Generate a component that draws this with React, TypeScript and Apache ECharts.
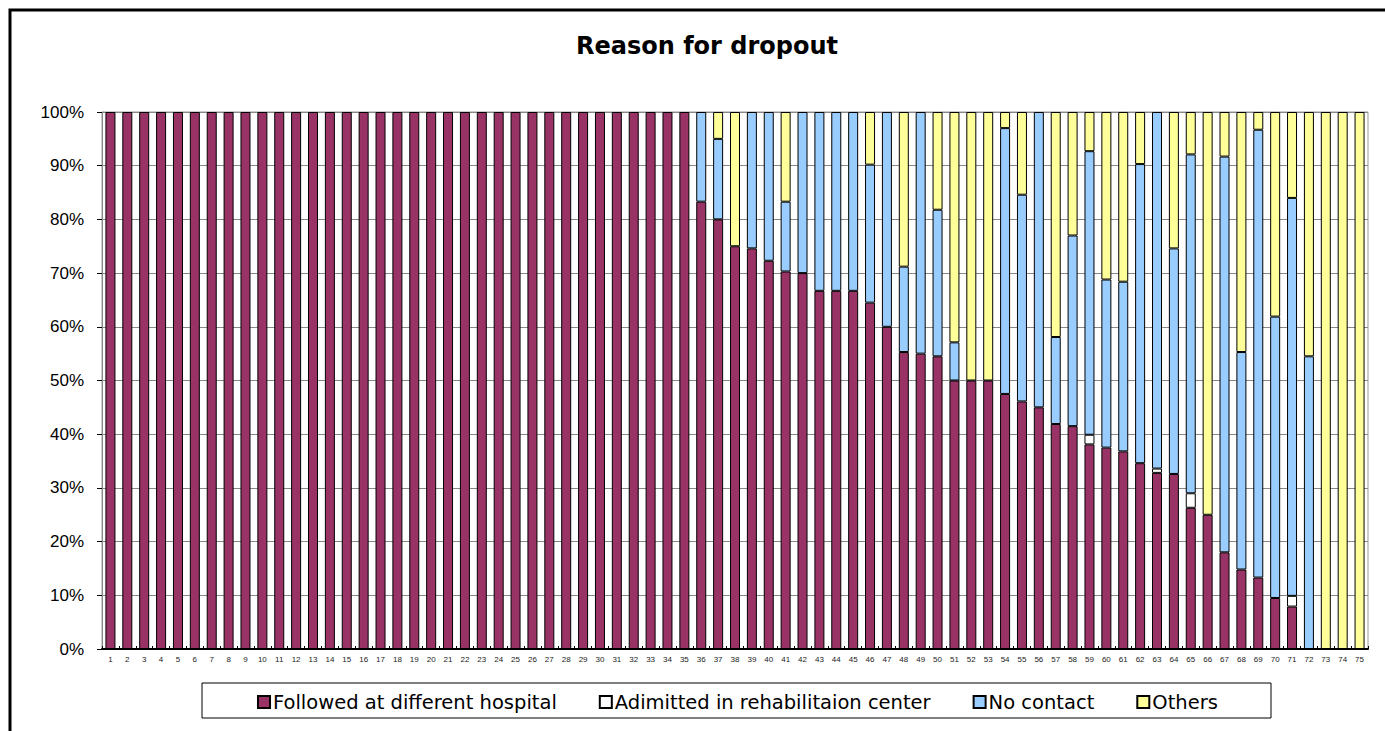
import React, { useEffect, useRef } from "react";
import * as echarts from "echarts";

const categories = [
  "1","2","3","4","5","6","7","8","9","10","11","12","13","14","15","16","17","18","19","20",
  "21","22","23","24","25","26","27","28","29","30","31","32","33","34","35","36","37","38","39","40",
  "41","42","43","44","45","46","47","48","49","50","51","52","53","54","55","56","57","58","59","60",
  "61","62","63","64","65","66","67","68","69","70","71","72","73","74","75",
];

const seriesNames = [
  "Followed at different hospital",
  "Adimitted in rehabilitaion center",
  "No contact",
  "Others",
];

const hospital = [
  100,100,100,100,100,100,100,100,100,100,100,100,100,100,100,100,100,100,100,100,
  100,100,100,100,100,100,100,100,100,100,100,100,100,100,100,83.3,80,75,74.6,72.3,
  70.3,70,66.7,66.7,66.7,64.5,60,55.3,55,54.5,50,50,50,47.5,46.1,45,41.9,41.5,38.1,37.5,
  36.8,34.6,32.8,32.6,26.3,25,18,14.8,13.3,9.5,7.9,0,0,0,0,
];

const rehab = [
  0,0,0,0,0,0,0,0,0,0,0,0,0,0,0,0,0,0,0,0,
  0,0,0,0,0,0,0,0,0,0,0,0,0,0,0,0,0,0,0,0,
  0,0,0,0,0,0,0,0,0,0,0,0,0,0,0,0,0,0,1.8,0,
  0,0,0.8,0,2.7,0,0,0,0,0,2.0,0,0,0,0,
];

const noContact = [
  0,0,0,0,0,0,0,0,0,0,0,0,0,0,0,0,0,0,0,0,
  0,0,0,0,0,0,0,0,0,0,0,0,0,0,0,16.7,15,0,25.4,27.7,
  13.0,30,33.3,33.3,33.3,25.7,40,15.9,45,27.3,7.1,0,0,49.5,38.5,55,16.2,35.5,52.8,31.3,
  31.6,55.7,66.4,42.0,63.1,0,73.7,40.5,83.4,52.4,74.1,54.5,0,0,0,
];

const others = [
  0,0,0,0,0,0,0,0,0,0,0,0,0,0,0,0,0,0,0,0,
  0,0,0,0,0,0,0,0,0,0,0,0,0,0,0,0,5,25,0,0,
  16.7,0,0,0,0,9.8,0,28.8,0,18.2,42.9,50,50,3,15.4,0,41.9,23,7.3,31.2,
  31.6,9.7,0,25.4,7.9,75,8.3,44.7,3.3,38.1,16.0,45.5,100,100,100,
];

const colors = ["#993366", "#FFFFFF", "#99CCFF", "#FFFF99"];

const valueLists = [hospital, rehab, noContact, others];

export default function App() {
  const ref = useRef<HTMLDivElement>(null);

  useEffect(() => {
    if (!ref.current) return;
    const chart = echarts.init(ref.current, null, { renderer: "svg" });
    const font = "'DejaVu Sans', sans-serif";
    chart.setOption({
      animation: false,
      backgroundColor: "#ffffff",
      title: {
        text: "Reason for dropout",
        left: 702,
        textAlign: "center",
        top: 29,
        textStyle: {
          fontFamily: font,
          fontSize: 24,
          fontWeight: "bold",
          color: "#000",
        },
      },
      grid: {
        left: 102,
        top: 112,
        right: 17,
        bottom: 82,
        show: true,
        borderColor: "#999",
        borderWidth: 1,
        backgroundColor: "#fff",
        containLabel: false,
      },
      legend: {
        left: 252,
        top: 687,
        itemWidth: 12,
        itemHeight: 12,
        itemGap: 42,
        icon: "rect",
        data: seriesNames,
        textStyle: {
          fontFamily: font,
          fontSize: 19.5,
          color: "#000",
          padding: [0, 0, 0, -2],
        },
      },
      xAxis: {
        type: "category",
        data: categories,
        axisLine: { lineStyle: { color: "#000", width: 2 } },
        axisTick: { show: true, inside: true, length: 3, lineStyle: { color: "#000" } },
        axisLabel: {
          fontSize: 8,
          color: "#222",
          interval: 0,
          margin: 6,
          fontFamily: "'Liberation Sans', sans-serif",
        },
      },
      yAxis: {
        type: "value",
        min: 0,
        max: 100,
        interval: 10,
        axisLine: { show: true, lineStyle: { color: "#888" } },
        axisTick: { show: true, length: 5, lineStyle: { color: "#000" } },
        splitLine: { lineStyle: { color: "#888", width: 1 } },
        axisLabel: {
          formatter: "{value}%",
          fontSize: 17,
          color: "#000",
          margin: 18,
          fontFamily: "'Liberation Sans', sans-serif",
        },
      },
      series: valueLists.map((vals, i) => ({
        name: seriesNames[i],
        type: "bar",
        stack: "total",
        barWidth: 10,
        data: vals.map((v) => (v === 0 ? null : v)),
        itemStyle: {
          color: colors[i],
          borderColor: "#000",
          borderWidth: 1,
        },
      })),
      graphic: [
        {
          type: "polyline",
          shape: { points: [[10, 731], [10, 10], [1385, 10]] },
          style: { stroke: "#000", lineWidth: 3, fill: null },
          z: 100,
        },
        {
          type: "rect",
          shape: { x: 202, y: 683, width: 1069, height: 35 },
          style: { stroke: "#000", lineWidth: 1, fill: null },
          z: 100,
        },
      ],
    });
    return () => chart.dispose();
  }, []);

  return (
    <div
      ref={ref}
      style={{ position: "fixed", left: 0, top: 0, width: 1385, height: 731 }}
    />
  );
}
